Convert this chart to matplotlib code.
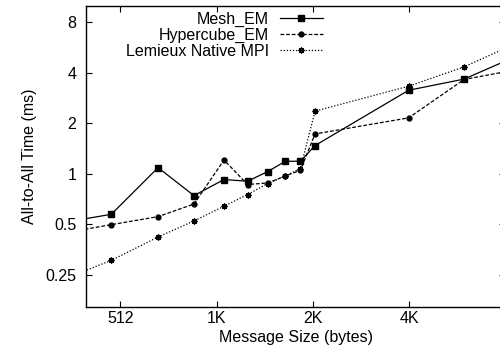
import numpy as np
import matplotlib.pyplot as plt
from matplotlib.ticker import FixedLocator, FixedFormatter, NullLocator

plt.rcParams['font.family'] = ['Liberation Sans', 'DejaVu Sans']
plt.rcParams['font.size'] = 11.5

# message sizes (bytes) and times (ms)
sizes = [288, 480, 672, 870, 1080, 1280, 1480, 1680, 1872, 2080, 4080, 6080, 8080]
mesh = [0.487, 0.575, 1.09, 0.743, 0.926, 0.905, 1.033, 1.19, 1.19, 1.476, 3.15, 3.67, 4.65]
hyper = [0.421, 0.499, 0.557, 0.662, 1.21, 0.865, 0.884, 0.973, 1.052, 1.73, 2.157, 3.65, 4.04]
lemieux = [0.208, 0.306, 0.421, 0.525, 0.642, 0.754, 0.877, 0.973, 1.077, 2.365, 3.33, 4.34, 5.54]

xticks = [512, 1024, 2048, 4096]
xlabels = ["512", "1K", "2K", "4K"]
yticks = [0.25, 0.5, 1, 2, 4, 8]
ylabels = ["0.25", "0.5", "1", "2", "4", "8"]

fig = plt.figure(figsize=(5, 3.58), dpi=100)
ax = fig.add_axes([0.172, 0.1433, 0.839, 0.84])

ax.plot(sizes, mesh, color="black", lw=0.9, marker="s", ms=4.5, label="Mesh_EM")
ax.plot(sizes, hyper, color="black", lw=0.9, marker="o", ms=3.5, dashes=(3, 1.5), label="Hypercube_EM")
ax.plot(sizes, lemieux, color="black", lw=0.9, marker=(8, 2, 0), ms=4.2, mew=1,
        dashes=(1, 1.5), label="Lemieux Native MPI")

ax.set_xscale("log")
ax.set_yscale("log")
ax.set_xlim(400, 8192)
ax.set_ylim(0.162, 10)

ax.xaxis.set_major_locator(FixedLocator(xticks))
ax.xaxis.set_major_formatter(FixedFormatter(xlabels))
ax.xaxis.set_minor_locator(NullLocator())
ax.yaxis.set_major_locator(FixedLocator(yticks))
ax.yaxis.set_major_formatter(FixedFormatter(ylabels))
ax.yaxis.set_minor_locator(NullLocator())
ax.tick_params(direction="in", top=True, right=True, length=4, width=0.8)
ax.tick_params(axis="x", pad=3)
ax.tick_params(axis="y", pad=7)
for s in ax.spines.values():
    s.set_linewidth(1)

ax.set_xlabel("Message Size (bytes)", labelpad=3)
ax.set_ylabel("All-to-All Time (ms)", labelpad=6)

leg = ax.legend(loc="upper right", bbox_to_anchor=(0.646, 0.968),
                bbox_transform=fig.transFigure, frameon=False, markerfirst=False,
                handlelength=2.7, handletextpad=0.7, labelspacing=0.07,
                borderpad=0, borderaxespad=0)
leg._legend_box._children[-1]._children[0].align = "right"

fig.savefig("out.png", dpi=100)
